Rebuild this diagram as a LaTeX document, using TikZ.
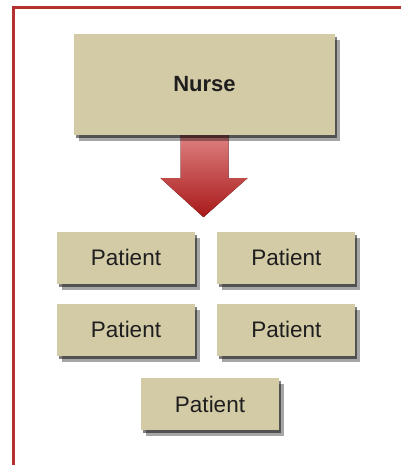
\documentclass[tikz,border=0pt]{standalone}
\usepackage{fontspec}
\setmainfont{Liberation Sans}
\usetikzlibrary{positioning,shadows,backgrounds}
\definecolor{boxtan}{RGB}{211,203,166}
\definecolor{framered}{RGB}{183,48,48}
\definecolor{arrowtop}{RGB}{222,128,128}
\definecolor{arrowbottom}{RGB}{168,24,24}
\definecolor{inktext}{RGB}{30,30,30}
\tikzstyle{softshadow}=[
	drop shadow={shadow xshift=2pt, shadow yshift=-3pt, opacity=.5, fill=black},
	drop shadow={shadow xshift=5pt, shadow yshift=-6pt, opacity=.35, fill=black}
]
\tikzstyle{caregiver}=[
	rectangle,
	softshadow,
	fill=boxtan,
	inner sep=0pt,
	minimum width=261pt,
	minimum height=101pt,
	text=inktext,
	font=\fontsize{22}{26}\selectfont\bfseries
]
\tikzstyle{patient}=[
	rectangle,
	softshadow,
	fill=boxtan,
	inner sep=0pt,
	minimum width=138pt,
	minimum height=52pt,
	text=inktext,
	font=\fontsize{22.5}{27}\selectfont,
	node distance=20pt and 22pt
]
\tikzstyle{careflow}=[
	top color=arrowtop,
	bottom color=arrowbottom
]

\begin{document}
\begin{tikzpicture}[x=1pt,y=-1pt]
\useasboundingbox (0,0) rectangle (401,465);
\draw[framered, line width=3pt] (13.5,465) -- (13.5,8) -- (401,8);

\node [caregiver] (Nurse) at (204.5,84.5) {Nurse};
\node [patient] (PatientA) at (126,257.5) {Patient};
\node [patient] (PatientB)[right=of PatientA] {Patient};
\node [patient] (PatientC)[below=of PatientA] {Patient};
\node [patient] (PatientD)[right=of PatientC] {Patient};
\node [patient] (PatientE)[below=22pt of PatientC, xshift=84pt] {Patient};

% big arrow from the nurse down to the patients
\begin{pgfonlayer}{background}
\fill[white] (0,0) rectangle (401,465);
\fill [careflow, shift={(Nurse.south)}]
	(-24,0) -- (24,0) -- (24,43) -- (43,43) -- (-1,82) -- (-44,43) -- (-24,43) -- cycle;
\end{pgfonlayer}
\end{tikzpicture}
\end{document}
